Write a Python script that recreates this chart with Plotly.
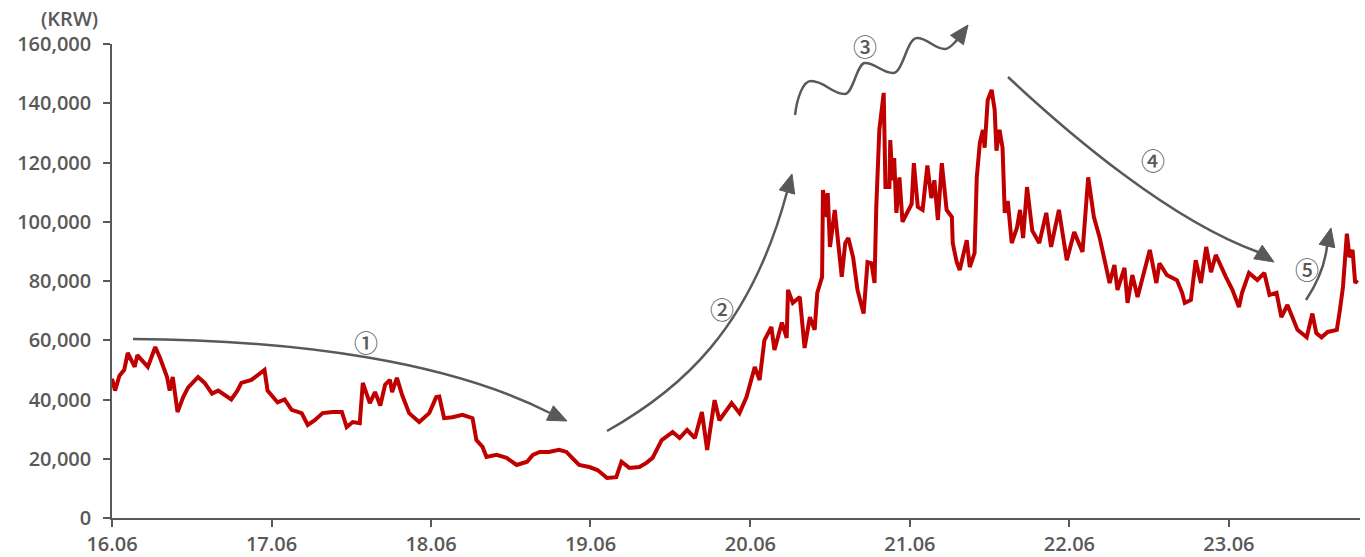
import plotly.graph_objects as go

dates = [
    "2016-06-01", "2016-06-08", "2016-06-18", "2016-06-29", "2016-07-07", "2016-07-23", "2016-07-29",
    "2016-08-22", "2016-09-08", "2016-09-19", "2016-10-05", "2016-10-11", "2016-10-18", "2016-10-29",
    "2016-11-11", "2016-11-22", "2016-12-15", "2016-12-30", "2017-01-16", "2017-01-30", "2017-03-01",
    "2017-03-15", "2017-03-24", "2017-04-16", "2017-05-16", "2017-05-23", "2017-06-15", "2017-07-01",
    "2017-07-17", "2017-08-09", "2017-08-23", "2017-09-08", "2017-09-26", "2017-10-19", "2017-11-09",
    "2017-11-20", "2017-12-04", "2017-12-20", "2017-12-27", "2018-01-12", "2018-01-24", "2018-02-05",
    "2018-02-16", "2018-02-27", "2018-03-04", "2018-03-15", "2018-03-27", "2018-04-12", "2018-05-05",
    "2018-05-28", "2018-06-13", "2018-06-20", "2018-07-01", "2018-07-20", "2018-08-12", "2018-09-04",
    "2018-09-13", "2018-09-27", "2018-10-06", "2018-10-29", "2018-11-21", "2018-12-14", "2019-01-07",
    "2019-01-20", "2019-02-05", "2019-02-26", "2019-03-21", "2019-04-07", "2019-04-20", "2019-05-06",
    "2019-05-29", "2019-06-17", "2019-07-09", "2019-07-30", "2019-08-11", "2019-08-29", "2019-09-21",
    "2019-10-07", "2019-10-21", "2019-11-11", "2019-12-06", "2019-12-22", "2020-01-08", "2020-01-26",
    "2020-02-11", "2020-02-23", "2020-03-11", "2020-03-22", "2020-04-19", "2020-05-07", "2020-05-23",
    "2020-06-11", "2020-06-22", "2020-07-03", "2020-07-19", "2020-07-26", "2020-08-12", "2020-08-23",
    "2020-08-26", "2020-09-06", "2020-09-22", "2020-10-03", "2020-10-15", "2020-10-26", "2020-11-01",
    "2020-11-12", "2020-11-14", "2020-11-23", "2020-11-25", "2020-11-30", "2020-12-11", "2020-12-27",
    "2021-01-04", "2021-01-11", "2021-01-22", "2021-02-01", "2021-02-15", "2021-02-24", "2021-03-05",
    "2021-03-12", "2021-03-16", "2021-03-23", "2021-04-02", "2021-04-06", "2021-04-15", "2021-04-17",
    "2021-04-22", "2021-04-26", "2021-05-01", "2021-05-08", "2021-05-15", "2021-06-05", "2021-06-10",
    "2021-06-19", "2021-06-30", "2021-07-11", "2021-07-20", "2021-07-27", "2021-08-04", "2021-08-13",
    "2021-08-24", "2021-09-05", "2021-09-07", "2021-09-16", "2021-09-23", "2021-10-09", "2021-10-16",
    "2021-10-27", "2021-11-01", "2021-11-08", "2021-11-15", "2021-11-19", "2021-11-26", "2021-12-05",
    "2021-12-12", "2021-12-16", "2021-12-23", "2021-12-30", "2022-01-04", "2022-01-11", "2022-01-20",
    "2022-02-01", "2022-02-08", "2022-02-15", "2022-02-24", "2022-03-08", "2022-03-24", "2022-04-09",
    "2022-04-20", "2022-05-08", "2022-05-26", "2022-06-12", "2022-07-01", "2022-07-14", "2022-07-27",
    "2022-08-09", "2022-09-01", "2022-09-12", "2022-09-19", "2022-10-05", "2022-10-12", "2022-10-23",
    "2022-11-04", "2022-11-25", "2022-12-02", "2022-12-17", "2022-12-24", "2023-01-10", "2023-02-02",
    "2023-02-14", "2023-02-20", "2023-03-06", "2023-03-17", "2023-03-29", "2023-04-10", "2023-04-21",
    "2023-05-02", "2023-05-25", "2023-06-09", "2023-06-24", "2023-07-01", "2023-07-17", "2023-08-05",
    "2023-08-21", "2023-09-02", "2023-09-18", "2023-09-29", "2023-10-13", "2023-10-24", "2023-11-05",
    "2023-11-26", "2023-12-09", "2023-12-18", "2023-12-30", "2024-01-13", "2024-02-03", "2024-02-10",
    "2024-02-17", "2024-02-26", "2024-03-03", "2024-03-10", "2024-03-16", "2024-03-21",
]

prices = [
    47000, 43000, 48000, 50000, 55700, 51000, 55000,
    51000, 57700, 54000, 47600, 43000, 47600, 35800,
    40800, 44000, 47600, 45600, 42000, 43000, 40000,
    43000, 45600, 46600, 50000, 43000, 39000, 40000,
    36500, 35400, 31400, 33000, 35400, 35800, 35800,
    30700, 32400, 32000, 45600, 38800, 42500, 38000,
    45000, 46600, 42500, 47300, 41500, 35400, 32400,
    35400, 40800, 41000, 33700, 34000, 34800, 33700,
    26300, 24000, 20600, 21300, 20300, 17900, 19000,
    21300, 22300, 22300, 23000, 22300, 20300, 17900,
    17200, 16200, 13500, 13800, 19000, 16900, 17200,
    18600, 20300, 26300, 29000, 27000, 29700, 27000,
    35800, 23000, 39800, 33000, 38800, 35400, 40800,
    51000, 46600, 60000, 64500, 56700, 66000, 60800,
    77000, 72600, 74600, 57400, 67800, 63500, 76000,
    81400, 110700, 101600, 109700, 91500, 104000, 81400,
    92800, 94500, 88000, 77000, 69000, 86400, 86000,
    79300, 105000, 131000, 143500, 111700, 111700, 127600,
    114000, 121500, 103000, 115000, 100000, 106000, 119800,
    105000, 104000, 119000, 108000, 114000, 100600, 119800,
    104000, 101600, 92800, 86400, 83700, 93800, 84700,
    89500, 115000, 126600, 131000, 125000, 141000, 144500,
    137700, 124000, 131000, 125000, 103000, 107000, 92800,
    98000, 104000, 94500, 111700, 97000, 92800, 103000,
    91500, 104000, 87000, 96500, 89800, 115000, 101600,
    94800, 79300, 85400, 77000, 84400, 72600, 82000,
    74600, 86000, 90500, 79300, 86000, 82000, 80300,
    76000, 72600, 73600, 87000, 79300, 91500, 83000,
    88800, 81400, 77000, 71200, 76000, 82700, 80300,
    82700, 75300, 76000, 67800, 71900, 67800, 63500,
    61000, 69000, 62400, 61000, 62800, 63500, 70200,
    78000, 96000, 88000, 90500, 79300, 80300,
]

y_ticks = [0, 20000, 40000, 60000, 80000, 100000, 120000, 140000, 160000]
phase_labels = ["①", "②", "③", "④", "⑤"]

GRAY = "#595959"
RED = "#C00000"
FONT = "Open Sans"

# plot-area pixel frame (for placing decorative arrows in paper coordinates)
PL, PR, PT, PB = 112, 1360, 44, 518


def pp(x, y):
    return (x - PL) / (PR - PL), (PB - y) / (PB - PT)


def fmt(pt):
    x, y = pp(*pt)
    return f"{x:.5f},{y:.5f}"


def bezier(start, segs):
    s = "M " + fmt(start)
    for c1, c2, e in segs:
        s += " C " + fmt(c1) + " " + fmt(c2) + " " + fmt(e)
    return s


def head(tip, back, w=8.0):
    dx, dy = tip[0] - back[0], tip[1] - back[1]
    n = (dx * dx + dy * dy) ** 0.5
    ux, uy = dx / n, dy / n
    px, py = -uy, ux
    b1 = (back[0] + px * w, back[1] + py * w)
    b2 = (back[0] - px * w, back[1] - py * w)
    return "M " + fmt(tip) + " L " + fmt(b1) + " L " + fmt(b2) + " Z"


fig = go.Figure()
fig.add_trace(go.Scatter(x=dates, y=prices, mode="lines",
                         line=dict(color=RED, width=4), hoverinfo="skip"))

curves = [
    bezier((133, 339), [((300, 340), (450, 362), (550, 413))]),
    bezier((607, 431), [((680, 390), (750, 330), (787, 192))]),
    bezier((795, 115), [((797, 98), (803, 81), (811, 81)),
                        ((825, 81), (831, 94), (845, 94)),
                        ((853, 94), (857, 63), (865, 63)),
                        ((876, 63), (882, 73), (893, 73)),
                        ((903, 73), (907, 38), (917, 38)),
                        ((928, 38), (934, 49), (945, 49)),
                        ((950, 49), (953, 44), (957, 40))]),
    bezier((1008, 77), [((1070, 135), (1170, 220), (1258, 252))]),
    bezier((1306, 300), [((1316, 285), (1325, 265), (1327, 246))]),
]
heads = [
    head((567, 421), (550, 413)),
    head((792, 174), (787, 192)),
    head((968, 25), (957, 40)),
    head((1274, 262), (1258, 252)),
    head((1331, 228), (1327, 246)),
]
shapes = []
for c in curves:
    shapes.append(dict(type="path", path=c, xref="paper", yref="paper",
                       line=dict(color=GRAY, width=2.5), layer="above"))
for h in heads:
    shapes.append(dict(type="path", path=h, xref="paper", yref="paper",
                       fillcolor=GRAY, line=dict(color=GRAY, width=1), layer="above"))

label_pos = [(366, 341), (722, 308), (865, 46), (1153, 159), (1307, 268)]
annotations = []
for lab, (x, y) in zip(phase_labels, label_pos):
    px_, py_ = pp(x, y)
    annotations.append(dict(text=lab, x=px_, y=py_, xref="paper", yref="paper",
                            showarrow=False, xanchor="center", yanchor="middle",
                            font=dict(family="Noto Sans CJK KR", size=24, color=GRAY,
                                      weight=500)))
kx, ky = pp(100, 18)
annotations.append(dict(text="(KRW)", x=kx, y=ky, xref="paper", yref="paper",
                        showarrow=False, xanchor="right", yanchor="middle",
                        font=dict(family=FONT, size=20, color=GRAY, weight=600)))

tf = dict(family=FONT, size=20, color=GRAY, weight=600)
fig.update_layout(
    width=1365, height=557,
    margin=dict(l=PL, r=1365 - PR, t=PT, b=557 - PB, autoexpand=False),
    paper_bgcolor="white", plot_bgcolor="white",
    showlegend=False,
    font=dict(family=FONT, size=20, color=GRAY),
    shapes=shapes, annotations=annotations,
    xaxis=dict(type="date", range=["2016-06-01", "2024-03-27"], automargin=False,
               tick0="2016-06-01", dtick="M12", tickformat="%y.%m",
               showgrid=False, zeroline=False, showline=True,
               linecolor=GRAY, linewidth=1.5, ticks="outside", ticklen=7,
               tickcolor=GRAY, tickwidth=1.5, tickfont=tf),
    yaxis=dict(range=[0, 160000], tickvals=y_ticks, tickformat=",", automargin=False,
               showgrid=False, zeroline=False, showline=True,
               linecolor=GRAY, linewidth=1.5, ticks="outside", ticklen=7,
               tickcolor=GRAY, tickwidth=1.5, ticklabelstandoff=8, tickfont=tf),
)

fig.write_html("out.html")
